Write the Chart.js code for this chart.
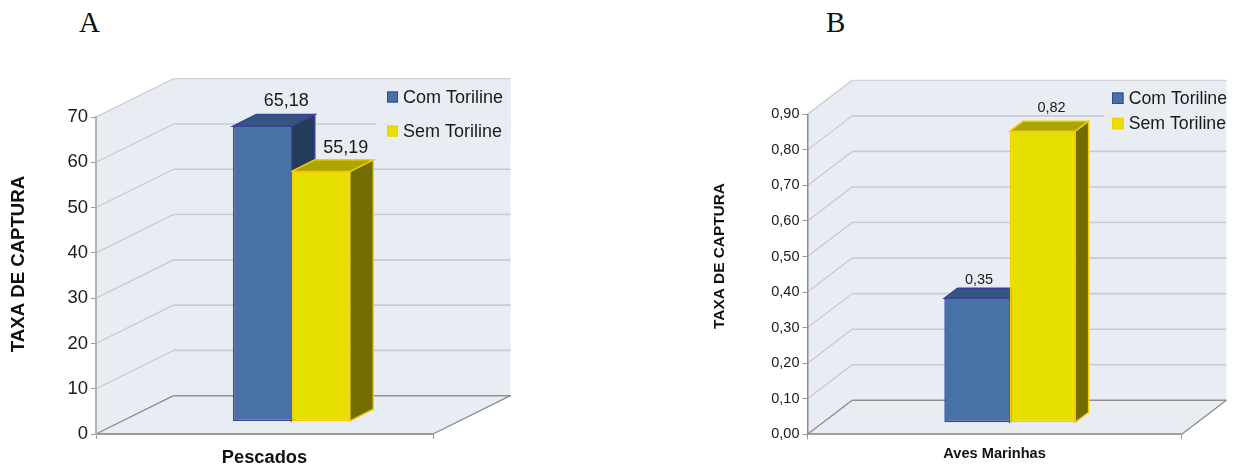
<!DOCTYPE html>
<html>
<head>
<meta charset="utf-8">
<title>Taxa de captura</title>
<script src="https://cdn.jsdelivr.net/npm/chart.js@4/dist/chart.umd.min.js"></script>
<style>
  html, body { margin: 0; padding: 0; background: #fff; }
  #page { position: relative; width: 1236px; height: 465px; overflow: hidden; }
  canvas { position: absolute; top: 0; }
  .letter { position: absolute; top: 5px; font: 29px/34px "Liberation Serif", serif; color: #111; }
</style>
</head>
<body>
<div id="page">
  <div class="letter" style="left:79px">A</div>
  <div class="letter" style="left:826px">B</div>
  <canvas id="chartA" width="530" height="465" style="left:0"></canvas>
  <canvas id="chartB" width="536" height="465" style="left:700px"></canvas>
</div>
<script>
const seriesNames = ["Com Toriline", "Sem Toriline"];

const categoriesA = ["Pescados"];
const comToriline_A = [65.18];
const semToriline_A = [55.19];
const tickLabelsA = ["0", "10", "20", "30", "40", "50", "60", "70"];

const categoriesB = ["Aves Marinhas"];
const comToriline_B = [0.35];
const semToriline_B = [0.82];
const tickLabelsB = ["0,00", "0,10", "0,20", "0,30", "0,40", "0,50", "0,60", "0,70", "0,80", "0,90"];

const FONT = '"Liberation Sans", Arial, sans-serif';
const WALL = "#e8ecf3";
const FACES = [
  { front: "#4771a7", border: "#3a409c", top: "#34567c", side: "#243b59", skip: { right: true } },
  { front: "#e6df00", border: "#f6cc00", top: "#aba500", side: "#716d00", skip: false }
];

function line(ctx, x1, y1, x2, y2, color, width) {
  ctx.strokeStyle = color;
  ctx.lineWidth = width;
  ctx.beginPath();
  ctx.moveTo(x1, y1);
  ctx.lineTo(x2, y2);
  ctx.stroke();
}

function poly(ctx, pts, fill, stroke) {
  ctx.beginPath();
  pts.forEach((p, i) => (i ? ctx.lineTo(p[0], p[1]) : ctx.moveTo(p[0], p[1])));
  ctx.closePath();
  ctx.fillStyle = fill;
  ctx.fill();
  if (stroke) {
    ctx.strokeStyle = stroke;
    ctx.lineWidth = 1.4;
    ctx.stroke();
  }
}

// walls, floor and the slanted grid, all hung on the y scale ticks
const wallPlugin = {
  id: "wall",
  beforeDraw(chart, args, o) {
    const { ctx, chartArea: a, scales } = chart;
    const y = scales.y;
    const dx = o.dx, dy = o.dy;
    poly(ctx, [
      [a.left, a.top], [a.left + dx, a.top - dy], [a.right + dx, a.top - dy],
      [a.right + dx, a.bottom - dy], [a.right, a.bottom], [a.left, a.bottom]
    ], WALL);
    y.ticks.forEach((t) => {
      const py = y.getPixelForValue(t.value);
      if (t.value === 0) return;
      line(ctx, a.left, py, a.left + dx, py - dy, "#c9c9c9", 1.2);
      const top = t.value === y.max;
      line(ctx, a.left + dx, py - dy, a.right + dx, py - dy, top ? "#c9cbce" : "#c9ccd0", top ? 1 : 1.6);
    });
    line(ctx, a.left, a.bottom, a.left + dx, a.bottom - dy, "#8a8a8a", 1.3);
    line(ctx, a.left + dx, a.bottom - dy, a.right + dx, a.bottom - dy, "#8f8f8f", 1.6);
    line(ctx, a.right, a.bottom, a.right + dx, a.bottom - dy, "#8a8a8a", 1.3);

    // legend sits on a wall coloured box that hides the grid behind it
    const l = o.legend;
    ctx.fillStyle = WALL;
    ctx.fillRect(l.boxLeft, l.boxTop, a.right + dx - l.boxLeft, l.boxHeight);
    chart.data.datasets.forEach((ds, i) => {
      const by = l.baselines[i];
      const s = l.swatch;
      ctx.fillStyle = FACES[i].front;
      ctx.fillRect(l.x, by - s, s, s);
      ctx.strokeStyle = FACES[i].border;
      ctx.lineWidth = 1;
      ctx.strokeRect(l.x + 0.5, by - s + 0.5, s - 1, s - 1);
      ctx.fillStyle = "#1a1a1a";
      ctx.font = `${l.size}px ${FONT}`;
      ctx.textAlign = "left";
      ctx.textBaseline = "alphabetic";
      ctx.fillText(ds.label, l.textX, by);
    });

    // y axis title
    ctx.save();
    ctx.translate(o.title.x, o.title.y);
    ctx.rotate(-Math.PI / 2);
    ctx.font = `bold ${o.title.size}px ${FONT}`;
    ctx.fillStyle = "#111";
    ctx.textAlign = "center";
    ctx.textBaseline = "middle";
    ctx.fillText(o.title.text, 0, 0);
    ctx.restore();
  }
};

// shifts the library's bars back into the box and adds their top and side faces
const barDepthPlugin = {
  id: "barDepth",
  beforeDatasetsDraw(chart, args, o) {
    const { ctx } = chart;
    ctx.save();
    ctx.translate(o.shiftX, o.shiftY);
    chart.data.datasets.forEach((ds, i) => {
      const f = FACES[i];
      chart.getDatasetMeta(i).data.forEach((bar) => {
        const p = bar.getProps(["x", "y", "base", "width"], true);
        const l = p.x - p.width / 2, r = p.x + p.width / 2;
        poly(ctx, [[r, p.y], [r + o.dx, p.y - o.dy], [r + o.dx, p.base - o.dy], [r, p.base]], f.side, f.border);
        poly(ctx, [[l, p.y], [l + o.dx, p.y - o.dy], [r + o.dx, p.y - o.dy], [r, p.y]], f.top, f.border);
      });
    });
  },
  afterDatasetsDraw(chart, args, o) {
    const { ctx } = chart;
    ctx.fillStyle = "#1a1a1a";
    ctx.font = `${o.labelSize}px ${FONT}`;
    ctx.textAlign = "center";
    ctx.textBaseline = "alphabetic";
    chart.data.datasets.forEach((ds, i) => {
      const bar = chart.getDatasetMeta(i).data[0];
      const text = ds.data[0].toFixed(2).replace(".", ",");
      ctx.fillText(text, bar.x + o.labelX[i], bar.y - o.labelY[i]);
    });
    ctx.restore();
  }
};

function drawChart(id, cfg) {
  return new Chart(document.getElementById(id), {
    type: "bar",
    data: {
      labels: cfg.categories,
      datasets: cfg.values.map((v, i) => ({
        label: seriesNames[i],
        data: v,
        backgroundColor: FACES[i].front,
        borderColor: FACES[i].border,
        borderWidth: 1.5,
        borderSkipped: FACES[i].skip ? "right" : false,
        clip: false
      }))
    },
    plugins: [wallPlugin, barDepthPlugin],
    options: {
      responsive: false,
      animation: false,
      events: [],
      categoryPercentage: cfg.barShare,
      barPercentage: 1,
      layout: { padding: { top: cfg.area.top, right: cfg.canvasW - cfg.area.right, left: 0, bottom: 0 } },
      plugins: {
        legend: { display: false },
        tooltip: { enabled: false },
        wall: { dx: cfg.depth[0], dy: cfg.depth[1], legend: cfg.legend, title: cfg.title },
        barDepth: cfg.bars
      },
      scales: {
        x: {
          afterFit: (s) => { s.height = 465 - cfg.area.bottom; },
          border: { color: cfg.xAxisColor, width: 2 },
          grid: { drawOnChartArea: false, color: "#9a9a9a", tickLength: 5 },
          ticks: { color: "#111", padding: cfg.xPad, maxRotation: 0, font: { family: FONT, size: cfg.xSize, weight: "bold" } }
        },
        y: {
          min: 0,
          max: cfg.max,
          afterFit: (s) => { s.width = cfg.area.left; },
          border: { color: cfg.yAxisColor, width: cfg.yAxisWidth },
          grid: { drawOnChartArea: false, color: "#9a9a9a", tickLength: 5 },
          ticks: {
            stepSize: cfg.step,
            padding: 3,
            color: "#1a1a1a",
            font: { family: FONT, size: cfg.tickSize },
            callback: (v, i) => cfg.tickLabels[i]
          }
        }
      }
    }
  });
}

drawChart("chartA", {
  canvasW: 530,
  categories: categoriesA,
  values: [comToriline_A, semToriline_A],
  tickLabels: tickLabelsA,
  max: 70,
  step: 10,
  area: { left: 96, right: 433, top: 117, bottom: 434 },
  depth: [77.5, 38.3],
  barShare: 0.347,
  xSize: 18.3,
  xPad: 8,
  tickSize: 18.5,
  xAxisColor: "#9c9c9c",
  yAxisColor: "#b2b2b2",
  yAxisWidth: 2,
  bars: { shiftX: 27, shiftY: -12.6, dx: 23.3, dy: 11.7, labelSize: 18, labelX: [24, 25], labelY: [20.5, 18.5] },
  legend: { boxLeft: 376, boxTop: 82, boxHeight: 66, x: 387, textX: 403, swatch: 11, size: 18, baselines: [102.5, 136.5] },
  title: { text: "TAXA DE CAPTURA", x: 18.5, y: 264, size: 18.6 }
});

drawChart("chartB", {
  canvasW: 536,
  categories: categoriesB,
  values: [comToriline_B, semToriline_B],
  tickLabels: tickLabelsB,
  max: 0.9,
  step: 0.1,
  area: { left: 107.5, right: 481.7, top: 114.3, bottom: 434.3 },
  depth: [44.7, 34],
  barShare: 0.35,
  xSize: 14.6,
  xPad: 6,
  tickSize: 14.5,
  xAxisColor: "#a0a0a0",
  yAxisColor: "#8c8c8c",
  yAxisWidth: 1.5,
  bars: { shiftX: 15.2, shiftY: -11.6, dx: 13.3, dy: 10, labelSize: 14.5, labelX: [2, 9], labelY: [14.5, 19.5] },
  legend: { boxLeft: 404, boxTop: 84, boxHeight: 50, x: 412, textX: 428.7, swatch: 11.5, size: 17.7, baselines: [104, 129.3] },
  title: { text: "TAXA DE CAPTURA", x: 19.5, y: 256, size: 15.4 }
});
</script>
</body>
</html>
